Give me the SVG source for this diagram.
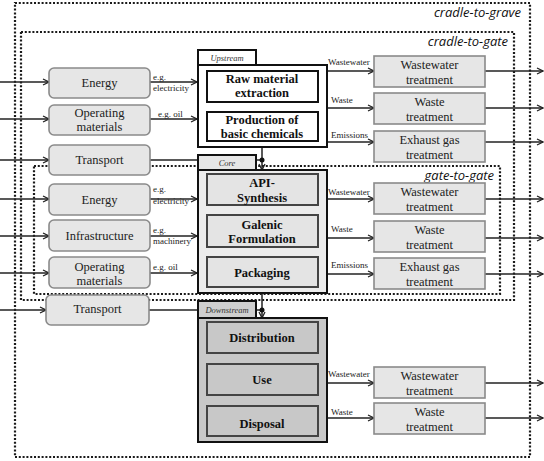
<svg xmlns="http://www.w3.org/2000/svg" width="544" height="461" viewBox="0 0 544 461">
<defs>
<marker id="ah" markerWidth="8" markerHeight="8" refX="7" refY="4" orient="auto" markerUnits="userSpaceOnUse">
<path d="M1,1 L7,4 L1,7" fill="none" stroke="#222" stroke-width="1.3"/>
</marker>
<style>
.dot{fill:none;stroke:#1a1a1a;stroke-width:2.2;stroke-dasharray:2 1.8}
.scope{font-style:italic;font-size:13px;fill:#111;text-anchor:end}
.in{fill:#e6e6e6;stroke:#8a8a8a;stroke-width:1.6}
.tr{fill:#e6e6e6;stroke:#8a8a8a;stroke-width:1.6}
.t{font-size:12.5px;fill:#222;text-anchor:middle}
.b{font-size:12.5px;font-weight:bold;fill:#111;text-anchor:middle}
.s{font-size:9px;fill:#222}
.tab{font-size:8.5px;font-style:italic;fill:#333;text-anchor:middle}
.ln{stroke:#222;stroke-width:1.5;fill:none}
.ar{stroke:#222;stroke-width:1.5;fill:none;marker-end:url(#ah)}
.frame{stroke:#111;stroke-width:2}
.inner{stroke:#111;stroke-width:2}
.innerg{stroke:#444;stroke-width:2}
</style>
</defs>
<rect width="544" height="461" fill="#fff"/>

<g id="scopes">
<rect class="dot" x="15" y="3" width="515" height="454"/>
<rect class="dot" x="21" y="32" width="493" height="268"/>
<rect class="dot" x="34" y="166" width="466" height="128"/>
<g font-family="Open Sans, DejaVu Sans, sans-serif">
<text class="scope" x="521" y="17">cradle-to-grave</text>
<text class="scope" x="508" y="46">cradle-to-gate</text>
<text class="scope" x="494" y="180">gate-to-gate</text>
</g>
</g>

<g font-family="Liberation Serif, Times New Roman, serif">
<g id="connectors">
<line class="ar" x1="0" y1="82" x2="49" y2="82"/>
<line class="ar" x1="0" y1="119" x2="49" y2="119"/>
<line class="ar" x1="0" y1="160" x2="49" y2="160"/>
<line class="ar" x1="0" y1="199" x2="49" y2="199"/>
<line class="ar" x1="0" y1="236" x2="49" y2="236"/>
<line class="ar" x1="0" y1="273" x2="49" y2="273"/>
<line class="ar" x1="0" y1="310" x2="46" y2="310"/>
<line class="ar" x1="150" y1="82" x2="197" y2="82"/>
<line class="ar" x1="150" y1="119" x2="197" y2="119"/>
<line class="ar" x1="150" y1="199" x2="197" y2="199"/>
<line class="ar" x1="150" y1="236" x2="197" y2="236"/>
<line class="ar" x1="150" y1="273" x2="197" y2="273"/>
<line class="ln" x1="150" y1="160" x2="262" y2="160"/>
<line class="ln" x1="149" y1="310" x2="262" y2="310"/>
<line class="ar" x1="262" y1="147" x2="262" y2="170"/>
<line class="ar" x1="262" y1="293" x2="262" y2="318"/>
<circle cx="262" cy="160" r="2.5" fill="#111"/>
<circle cx="262" cy="310" r="2.5" fill="#111"/>
<line class="ar" x1="262" y1="102" x2="262" y2="112"/>
<line class="ar" x1="262" y1="205" x2="262" y2="215"/>
<line class="ar" x1="262" y1="247" x2="262" y2="257"/>
<line class="ar" x1="262" y1="353" x2="262" y2="364"/>
<line class="ar" x1="262" y1="395" x2="262" y2="406"/>
<line class="ar" x1="327" y1="71" x2="374" y2="71"/>
<line class="ar" x1="327" y1="108" x2="374" y2="108"/>
<line class="ar" x1="327" y1="142" x2="374" y2="142"/>
<line class="ar" x1="327" y1="199" x2="374" y2="199"/>
<line class="ar" x1="327" y1="238" x2="374" y2="238"/>
<line class="ar" x1="327" y1="274" x2="374" y2="274"/>
<line class="ar" x1="327" y1="383" x2="374" y2="383"/>
<line class="ar" x1="327" y1="418" x2="374" y2="418"/>
<line class="ar" x1="485" y1="71" x2="543" y2="71"/>
<line class="ar" x1="485" y1="108" x2="543" y2="108"/>
<line class="ar" x1="485" y1="142" x2="543" y2="142"/>
<line class="ar" x1="485" y1="199" x2="543" y2="199"/>
<line class="ar" x1="485" y1="238" x2="543" y2="238"/>
<line class="ar" x1="485" y1="274" x2="543" y2="274"/>
<line class="ar" x1="485" y1="383" x2="543" y2="383"/>
<line class="ar" x1="485" y1="418" x2="543" y2="418"/>
<text class="s" x="153" y="80">e.g.</text>
<text class="s" x="153" y="91">electricity</text>
<text class="s" x="158" y="117">e.g. oil</text>
<text class="s" x="153" y="192">e.g.</text>
<text class="s" x="153" y="204">electricity</text>
<text class="s" x="153" y="233">e.g.</text>
<text class="s" x="153" y="244">machinery</text>
<text class="s" x="153" y="270">e.g. oil</text>
<text class="s" x="328" y="65">Wastewater</text>
<text class="s" x="331" y="103">Waste</text>
<text class="s" x="331" y="138">Emissions</text>
<text class="s" x="328" y="195">Wastewater</text>
<text class="s" x="331" y="232">Waste</text>
<text class="s" x="331" y="268">Emissions</text>
<text class="s" x="328" y="377">Wastewater</text>
<text class="s" x="331" y="415">Waste</text>
</g>

<g id="in-energy1"><rect class="in" x="49" y="68" width="101" height="30" rx="5"/><text class="t" x="99.5" y="87">Energy</text></g>
<g id="in-operating1"><rect class="in" x="49" y="105" width="101" height="30" rx="5"/><text class="t" x="99.5" y="117">Operating</text><text class="t" x="99.5" y="131">materials</text></g>
<g id="in-transport1"><rect class="in" x="49" y="145" width="101" height="30" rx="5"/><text class="t" x="99.5" y="164">Transport</text></g>
<g id="in-energy2"><rect class="in" x="49" y="184" width="101" height="31" rx="5"/><text class="t" x="99.5" y="204">Energy</text></g>
<g id="in-infrastructure"><rect class="in" x="49" y="220" width="101" height="31" rx="5"/><text class="t" x="99.5" y="240">Infrastructure</text></g>
<g id="in-operating2"><rect class="in" x="49" y="257" width="101" height="31" rx="5"/><text class="t" x="99.5" y="271">Operating</text><text class="t" x="99.5" y="285">materials</text></g>
<g id="in-transport2"><rect class="in" x="46" y="295" width="103" height="30" rx="5"/><text class="t" x="97.5" y="313">Transport</text></g>

<g id="upstream">
<rect class="frame" x="198" y="50" width="58" height="15" fill="#fff"/>
<text class="tab" x="227" y="61">Upstream</text>
<rect class="frame" x="198" y="65" width="129" height="82" fill="#fff"/>
<rect class="inner" x="207" y="71" width="111" height="31" fill="#fff"/>
<text class="b" x="262" y="83">Raw material</text><text class="b" x="262" y="97">extraction</text>
<rect class="inner" x="207" y="112" width="111" height="29" fill="#fff"/>
<text class="b" x="262" y="124">Production of</text><text class="b" x="262" y="138">basic chemicals</text>
</g>

<g id="core">
<rect class="frame" x="198" y="155" width="58" height="15" fill="#e6e6e6"/>
<text class="tab" x="227" y="166">Core</text>
<rect class="frame" x="198" y="170" width="129" height="123" fill="#ececec"/>
<rect class="innerg" x="207" y="174" width="111" height="31" fill="#e4e4e4"/>
<text class="b" x="262" y="187">API-</text><text class="b" x="262" y="202">Synthesis</text>
<rect class="innerg" x="207" y="215" width="111" height="32" fill="#e4e4e4"/>
<text class="b" x="262" y="229">Galenic</text><text class="b" x="262" y="243">Formulation</text>
<rect class="innerg" x="207" y="257" width="111" height="30" fill="#e4e4e4"/>
<text class="b" x="262" y="277">Packaging</text>
</g>

<g id="downstream">
<rect class="frame" x="198" y="301" width="58" height="17" fill="#cfcfcf"/>
<text class="tab" x="227" y="313">Downstream</text>
<rect class="frame" x="198" y="318" width="129" height="124" fill="#c8c8c8"/>
<rect class="innerg" x="207" y="322" width="111" height="31" fill="#c8c8c8"/>
<text class="b" x="262" y="342">Distribution</text>
<rect class="innerg" x="207" y="364" width="111" height="31" fill="#c8c8c8"/>
<text class="b" x="262" y="384">Use</text>
<rect class="innerg" x="207" y="406" width="111" height="30" fill="#c8c8c8"/>
<text class="b" x="262" y="428">Disposal</text>
</g>

<g id="out-ww1"><rect class="tr" x="374" y="56" width="111" height="31"/><text class="t" x="429.5" y="69">Wastewater</text><text class="t" x="429.5" y="84">treatment</text></g>
<g id="out-waste1"><rect class="tr" x="374" y="93" width="111" height="31"/><text class="t" x="429.5" y="106">Waste</text><text class="t" x="429.5" y="121">treatment</text></g>
<g id="out-gas1"><rect class="tr" x="374" y="131" width="111" height="31"/><text class="t" x="429.5" y="144">Exhaust gas</text><text class="t" x="429.5" y="159">treatment</text></g>
<g id="out-ww2"><rect class="tr" x="374" y="183" width="111" height="31"/><text class="t" x="429.5" y="196">Wastewater</text><text class="t" x="429.5" y="211">treatment</text></g>
<g id="out-waste2"><rect class="tr" x="374" y="221" width="111" height="31"/><text class="t" x="429.5" y="234">Waste</text><text class="t" x="429.5" y="249">treatment</text></g>
<g id="out-gas2"><rect class="tr" x="374" y="258" width="111" height="31"/><text class="t" x="429.5" y="271">Exhaust gas</text><text class="t" x="429.5" y="286">treatment</text></g>
<g id="out-ww3"><rect class="tr" x="374" y="367" width="111" height="31"/><text class="t" x="429.5" y="380">Wastewater</text><text class="t" x="429.5" y="395">treatment</text></g>
<g id="out-waste3"><rect class="tr" x="374" y="403" width="111" height="31"/><text class="t" x="429.5" y="416">Waste</text><text class="t" x="429.5" y="431">treatment</text></g>
</g>
</svg>
